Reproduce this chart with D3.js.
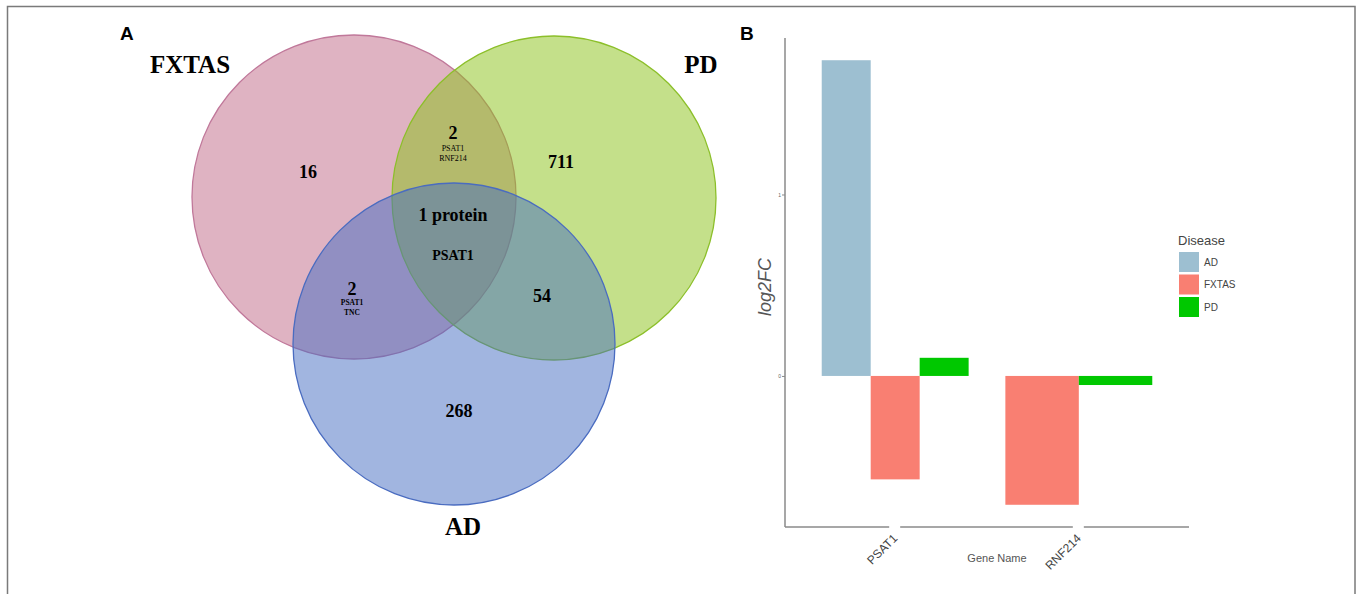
<!DOCTYPE html>
<html>
<head>
<meta charset="utf-8">
<script src="https://cdn.jsdelivr.net/npm/d3@7"></script>
<style>
  html, body { margin: 0; padding: 0; background: #fff; }
  svg { display: block; }
</style>
</head>
<body>
<svg id="fig" width="1360" height="594"></svg>
<script>
// ---- Venn diagram (panel A) ----
const vennSets = ["FXTAS", "PD", "AD"];
const vennSetFill = ["#bf6785", "#89c115", "#436bc1"];
const vennSetStroke = ["#c0789a", "#8cbf2a", "#4a6cc0"];
// region counts
const regionNames = ["FXTAS only", "PD only", "AD only", "FXTAS∩PD", "FXTAS∩AD", "PD∩AD", "all"];
const regionCounts = ["16", "711", "268", "2", "2", "54", "1 protein"];
const regionProteins = [[], [], [], ["PSAT1", "RNF214"], ["PSAT1", "TNC"], [], ["PSAT1"]];

// ---- Bar chart (panel B) ----
const genes = ["PSAT1", "RNF214"];
const diseases = ["AD", "FXTAS", "PD"];
const diseaseColors = ["#9dbfd1", "#f97f72", "#00c800"];
const barGene = ["PSAT1", "PSAT1", "PSAT1", "RNF214", "RNF214"];
const barDisease = ["AD", "FXTAS", "PD", "FXTAS", "PD"];
const barLog2FC = [1.74, -0.57, 0.10, -0.71, -0.05];
const yTicks = [0, 1];

const svg = d3.select("#fig");

// outer frame
svg.append("rect")
  .attr("x", 7.5).attr("y", 6.5)
  .attr("width", 1347.5).attr("height", 600)
  .attr("fill", "none").attr("stroke", "#7a7a7a").attr("stroke-width", 1.5);

// panel letters
const letter = (x, y, t) => svg.append("text").attr("x", x).attr("y", y).text(t)
  .attr("font-family", "Liberation Sans, Arial, sans-serif")
  .attr("font-weight", "bold").attr("font-size", 19).attr("fill", "#000");
letter(120, 40, "A");
letter(740, 40, "B");

// ---- Venn ----
const venn = svg.append("g");
const circles = [
  { cx: 354, cy: 197, r: 162 },
  { cx: 554, cy: 198, r: 162 },
  { cx: 454, cy: 344, r: 161 }
];
vennSets.forEach((s, i) => {
  venn.append("circle")
    .attr("cx", circles[i].cx).attr("cy", circles[i].cy).attr("r", circles[i].r)
    .attr("fill", vennSetFill[i]).attr("fill-opacity", 0.5)
    .attr("stroke", vennSetStroke[i]).attr("stroke-width", 1.3);
});

const serif = "Liberation Serif, Times New Roman, serif";
const setLabelPos = [[190, 73], [701, 73], [463, 535]];
vennSets.forEach((s, i) => {
  venn.append("text").attr("x", setLabelPos[i][0]).attr("y", setLabelPos[i][1])
    .attr("text-anchor", "middle").attr("font-family", serif)
    .attr("font-weight", "bold").attr("font-size", 25).text(s);
});

// count label placements
const countPos = [[308, 178], [561, 168], [459, 417], [453, 139], [352, 295], [542, 302], [453, 221]];
regionCounts.forEach((c, i) => {
  venn.append("text").attr("x", countPos[i][0]).attr("y", countPos[i][1])
    .attr("text-anchor", "middle").attr("font-family", serif)
    .attr("font-weight", "bold").attr("font-size", 18).text(c);
});
// protein names inside regions
const protStyle = {
  3: { size: 8, weight: "normal", y0: 151, dy: 9.5 },
  4: { size: 7.5, weight: "bold", y0: 305, dy: 9.5 },
  6: { size: 14, weight: "bold", y0: 260, dy: 14 }
};
regionProteins.forEach((list, i) => {
  if (!list.length) return;
  const st = protStyle[i];
  list.forEach((p, k) => {
    venn.append("text").attr("x", countPos[i][0]).attr("y", st.y0 + k * st.dy)
      .attr("text-anchor", "middle").attr("font-family", serif)
      .attr("font-weight", st.weight).attr("font-size", st.size).text(p);
  });
});

// ---- Bars ----
const plotL = 785, plotR = 1189, plotT = 38, plotB = 527;
const yMin = d3.min(barLog2FC), yMax = d3.max(barLog2FC);
const pad = (yMax - yMin) * 0.05;
const y = d3.scaleLinear().domain([yMin - pad, yMax + pad]).range([plotB, plotT]);

// discrete x axis with 0.6-step expansion on each side
const x = d3.scalePoint().domain(genes).range([plotL, plotR]).padding(0.6);
const groupW = 0.8 * x.step();

const bars = svg.append("g");
barGene.forEach((g, i) => {
  const inGroup = barDisease.filter((d, j) => barGene[j] === g);
  const sub = d3.scaleBand().domain(inGroup).range([x(g) - groupW / 2, x(g) + groupW / 2]);
  const v = barLog2FC[i];
  bars.append("rect")
    .attr("x", sub(barDisease[i])).attr("width", sub.bandwidth())
    .attr("y", y(Math.max(0, v))).attr("height", Math.abs(y(v) - y(0)))
    .attr("fill", diseaseColors[diseases.indexOf(barDisease[i])]);
});

// axes
const axisCol = "#8a8a8a";
svg.append("line").attr("x1", plotL).attr("x2", plotL).attr("y1", plotT).attr("y2", plotB)
  .attr("stroke", axisCol).attr("stroke-width", 1.5);
// x axis line with breaks at each tick
const breaks = genes.map(g => x(g));
let segs = [], start = plotL;
breaks.forEach(b => { segs.push([start, b - 6]); start = b + 5; });
segs.push([start, plotR]);
segs.forEach(s => svg.append("line").attr("x1", s[0]).attr("x2", s[1])
  .attr("y1", plotB).attr("y2", plotB).attr("stroke", axisCol).attr("stroke-width", 1.5));

const yAxis = svg.append("g").attr("transform", `translate(${plotL},0)`)
  .call(d3.axisLeft(y).tickValues(yTicks).tickFormat(d3.format("d")).tickSize(3).tickPadding(1));
yAxis.select(".domain").remove();
yAxis.selectAll("line").attr("stroke", axisCol);
yAxis.selectAll("text").attr("font-size", 5).attr("fill", "#666")
  .attr("font-family", "Liberation Sans, Arial, sans-serif");

genes.forEach(g => {
  svg.append("text")
    .attr("transform", `translate(${x(g) + 3},${plotB + 12}) rotate(-45)`)
    .attr("text-anchor", "end").attr("font-family", "Liberation Sans, Arial, sans-serif")
    .attr("font-size", 12).attr("fill", "#444").text(g);
});

svg.append("text").attr("x", 997).attr("y", 562).attr("text-anchor", "middle")
  .attr("font-family", "Liberation Sans, Arial, sans-serif").attr("font-size", 11)
  .attr("fill", "#555").text("Gene Name");
svg.append("text")
  .attr("transform", "translate(771,287) rotate(-90)")
  .attr("text-anchor", "middle").attr("font-family", "Liberation Sans, Arial, sans-serif")
  .attr("font-style", "italic").attr("font-size", 18).attr("fill", "#555").text("log2FC");

// legend
const leg = svg.append("g").attr("transform", "translate(1178,0)");
leg.append("text").attr("x", 0).attr("y", 245).attr("font-family", "Liberation Sans, Arial, sans-serif")
  .attr("font-size", 13).attr("fill", "#444").text("Disease");
diseases.forEach((d, i) => {
  leg.append("rect").attr("x", 1).attr("y", 252 + i * 22.5).attr("width", 20).attr("height", 20)
    .attr("fill", diseaseColors[i]);
  leg.append("text").attr("x", 26).attr("y", 262 + i * 22.5).attr("dy", "0.35em")
    .attr("font-family", "Liberation Sans, Arial, sans-serif").attr("font-size", 10)
    .attr("fill", "#444").text(d);
});
</script>
</body>
</html>
